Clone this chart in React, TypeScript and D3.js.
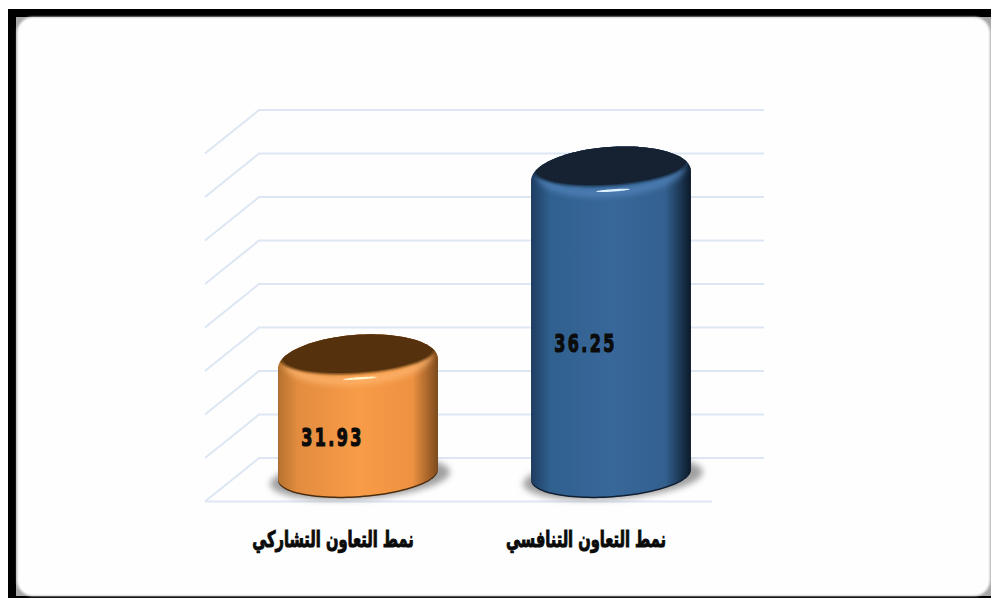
import React from "react";
import * as d3 from "d3";

// Chart data
const categories = ["نمط التعاون التشاركي", "نمط التعاون التنافسي"];
const values = [31.93, 36.25];
const gridValues = [29.5, 30.5, 31.5, 32.5, 33.5, 34.5, 35.5, 36.5, 37.5];
const palettes = [
  { edgeL: "#b5722f", midL: "#e28c3f", mid: "#f89c48", midR: "#ee9242", edgeR: "#7d4a1c", face: "#54320f", faceEdge: "#6b4215", rim: "#ffb873", glint: "#fff3c8", base: "#4a2b0c" },
  { edgeL: "#1f3d62", midL: "#30608f", mid: "#386799", midR: "#33608f", edgeR: "#0c1a2a", face: "#122030", faceEdge: "#1a3048", rim: "#5586bd", glint: "#dcefff", base: "#0e1e30" },
];

const W = 991;
const H = 598;
const FLOOR_VALUE = 29.5;
const TILT = (-4 * Math.PI) / 180;

const y = d3.scaleLinear().domain([FLOOR_VALUE, 37.5]).range([458, 110]);
const x = d3.scalePoint<string>().domain(categories).range([358, 611]);

const gridLeft = 205;
const gridBack = 259;
const gridRight = 764;
const depthDrop = 43.5;

const line = d3.line<[number, number]>();

// Point on a tilted ellipse at parameter t
function ellipsePoint(cx: number, cy: number, a: number, b: number, t: number): [number, number] {
  const px = a * Math.cos(t);
  const py = b * Math.sin(t);
  return [cx + px * Math.cos(TILT) - py * Math.sin(TILT), cy + px * Math.sin(TILT) + py * Math.cos(TILT)];
}

function arcPoints(cx: number, cy: number, a: number, b: number, from: number, to: number) {
  return d3.range(0, 61).map((i) => ellipsePoint(cx, cy, a, b, from + ((to - from) * i) / 60));
}

function ellipsePath(cx: number, cy: number, a: number, b: number) {
  return line(arcPoints(cx, cy, a, b, 0, Math.PI * 2)) + "Z";
}

// Outline of a cylinder with a rounded shoulder below the top face
function bodyPath(cx: number, topY: number, baseY: number) {
  const a = 80;
  const bottom = arcPoints(cx, baseY, a, 22, 0, Math.PI);
  const upper = arcPoints(cx, topY + 9, a, 28.5, Math.PI, 2 * Math.PI);
  return line([...bottom, ...upper]) + "Z";
}

function Cylinder({ index }: { index: number }) {
  const cat = categories[index];
  const p = palettes[index];
  const cx = x(cat) as number;
  const topY = y(values[index]) + 2;
  const baseY = y(FLOOR_VALUE) + 16;
  const body = bodyPath(cx, topY, baseY);
  return (
    <g>
      <path d={ellipsePath(cx + 2, baseY + 4, 90, 21)} fill="#a0a0a0" filter="url(#soft3)" />
      <path d={body} fill={p.base} transform="translate(0,1.5)" />
      <path d={body} fill={`url(#side${index})`} />
      <clipPath id={`clip${index}`}>
        <path d={body} />
      </clipPath>
      <g clipPath={`url(#clip${index})`}>
        <path d={ellipsePath(cx, topY + 4, 70, 22)} fill="none" stroke={p.rim} strokeWidth={8} opacity={0.8} filter="url(#soft3)" />
        <path d={ellipsePath(cx, topY - 1, 79, 20.5)} fill={p.faceEdge} filter="url(#soft1)" />
        <path d={ellipsePath(cx, topY - 1, 75.5, 19)} fill={p.face} filter="url(#soft05)" />
      </g>
      <path d={ellipsePath(cx + 2, topY + 24, 17, 1.2)} fill={p.glint} filter="url(#soft05)" />
    </g>
  );
}

export default function App() {
  return (
    <svg width={W} height={H} viewBox={`0 0 ${W} ${H}`} style={{ position: "absolute", left: 0, top: 0, display: "block" }}>
      <defs>
        {palettes.map((p, i) => (
          <linearGradient key={i} id={`side${i}`} x1="0" x2="1" y1="0" y2="0">
            <stop offset="0" stopColor={p.edgeL} />
            <stop offset="0.12" stopColor={p.midL} />
            <stop offset="0.5" stopColor={p.mid} />
            <stop offset="0.84" stopColor={p.midR} />
            <stop offset="1" stopColor={p.edgeR} />
          </linearGradient>
        ))}
        <filter id="soft3" x="-20%" y="-50%" width="140%" height="200%">
          <feGaussianBlur stdDeviation="3" />
        </filter>
        <filter id="soft1" x="-10%" y="-30%" width="120%" height="160%">
          <feGaussianBlur stdDeviation="1.2" />
        </filter>
        <filter id="soft05" x="-20%" y="-200%" width="140%" height="500%">
          <feGaussianBlur stdDeviation="0.6" />
        </filter>
        <filter id="cornerSoft">
          <feGaussianBlur stdDeviation="1" />
        </filter>
      </defs>

      {/* Frame */}
      <rect x={0} y={0} width={W} height={H} fill="#fff" />
      <rect x={8} y={9} width={W - 8} height={H - 9} fill="#000" />
      <rect x={16} y={17} width={W - 16} height={H - 19} fill="#a8a8a8" />
      <rect x={17} y={17} width={W - 18} height={H - 19} rx={16} ry={16} fill="#fefefe" filter="url(#cornerSoft)" />

      {/* Grid walls */}
      {gridValues.map((v) => {
        const gy = y(v);
        const pts: [number, number][] = [
          [gridLeft, gy + depthDrop],
          [gridBack, gy],
          [gridRight, gy],
        ];
        return <path key={v} d={line(pts) as string} fill="none" stroke="#dde6f3" strokeWidth={2} />;
      })}
      <path
        d={line([
          [gridLeft, y(FLOOR_VALUE) + depthDrop],
          [712, y(FLOOR_VALUE) + depthDrop],
        ]) as string}
        fill="none"
        stroke="#dde6f3"
        strokeWidth={2}
      />

      {/* Cylinders */}
      {categories.map((_, i) => (
        <Cylinder key={i} index={i} />
      ))}

      {/* Value labels */}
      {values.map((v, i) => {
        const lx = (x(categories[i]) as number) - 25.5;
        const ly = i === 0 ? y(v) + 93.5 : y(v) + 188;
        return (
          <text
            key={v}
            transform={`translate(${lx},${ly}) scale(0.8,1.22)`}
            textAnchor="middle"
            fontFamily="'DejaVu Sans', sans-serif"
            fontWeight={700}
            fontSize={20}
            letterSpacing={3}
            fill="#0b0b0b"
            stroke="#0b0b0b"
            strokeWidth={1}
          >
            {v.toFixed(2)}
          </text>
        );
      })}

      {/* Category labels */}
      {categories.map((c) => (
        <text
          key={c}
          transform={`translate(${(x(c) as number) - 25},547) scale(0.77,1.18)`}
          direction="rtl"
          textAnchor="middle"
          fontFamily="'DejaVu Sans', sans-serif"
          fontWeight={700}
          fontSize={19}
          fill="#0b0b0b"
          stroke="#0b0b0b"
          strokeWidth={0.9}
        >
          {c}
        </text>
      ))}
    </svg>
  );
}
